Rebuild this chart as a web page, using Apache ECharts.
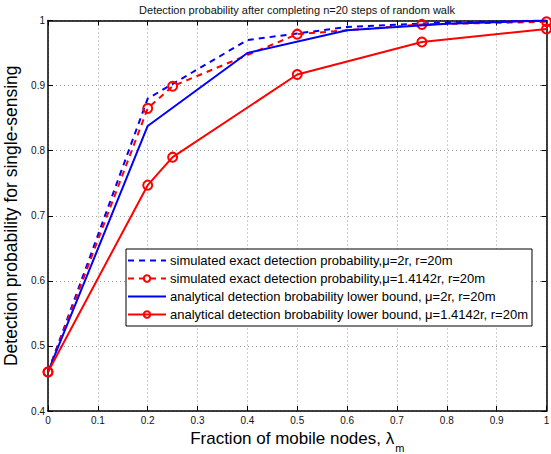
<!DOCTYPE html>
<html>
<head>
<meta charset="utf-8">
<script src="https://cdn.jsdelivr.net/npm/echarts@6/dist/echarts.min.js"></script>
<style>
  html, body { margin: 0; padding: 0; background: #fff; }
  #chart { width: 551px; height: 454px; }
</style>
</head>
<body>
<div id="chart"></div>
<script>
// Fraction of mobile nodes at which each curve was evaluated
const blueX = [0, 0.2, 0.4, 0.6, 0.8, 1];
const redX = [0, 0.2, 0.25, 0.5, 0.75, 1];

// Detection probabilities
const simMu2 = [0.46, 0.88, 0.97, 0.99, 0.997, 1.0];
const simMu14 = [0.46, 0.865, 0.899, 0.979, 0.994, 0.998];
const lbMu2 = [0.46, 0.838, 0.95, 0.985, 0.995, 1.0];
const lbMu14 = [0.46, 0.747, 0.79, 0.917, 0.967, 0.987];

const seriesNames = [
  'simulated exact detection probability,\u03bc=2r, r=20m',
  'simulated exact detection probability,\u03bc=1.4142r, r=20m',
  'analytical detection brobability lower bound, \u03bc=2r, r=20m',
  'analytical detection brobability lower bound, \u03bc=1.4142r, r=20m'
];

const titleText = 'Detection probability after completing n=20 steps of random walk';
const yName = 'Detection probability for single-sensing';

const pair = (xs, ys) => xs.map((x, i) => [x, ys[i]]);
const fmt = v => (Math.abs(v - Math.round(v)) < 1e-9 ? String(Math.round(v)) : v.toFixed(1));

const FONT = '"Liberation Sans", Arial, Helvetica, sans-serif';
const BLUE = '#0000ff';
const RED = '#ff0000';

const gridLine = { show: true, lineStyle: { color: '#9a9a9a', type: [1, 3], width: 1 } };
const axisLine = { show: true, onZero: false, lineStyle: { color: '#000', width: 1.5 } };
const tick = { show: true, inside: true, length: 5, lineStyle: { color: '#000', width: 1 } };

// legend entries for the marker-less curves show only their line
const noMarker = { color: 'rgba(0,0,0,0)', borderWidth: 0, opacity: 0 };

const chart = echarts.init(document.getElementById('chart'), null, { renderer: 'svg' });

const option = {
  backgroundColor: '#fff',
  animation: false,
  textStyle: { fontFamily: FONT },
  grid: {
    left: 48, right: 4.5, top: 20.5, bottom: 43,
    containLabel: false, outerBoundsMode: 'none'
  },
  graphic: [{
    type: 'text',
    x: 297, y: 10,
    style: {
      text: titleText,
      font: '11px ' + FONT,
      fill: '#111',
      textAlign: 'center',
      textVerticalAlign: 'middle'
    }
  }],
  legend: {
    orient: 'vertical',
    left: 126, top: 249,
    padding: [5, 4, 5, 1],
    itemWidth: 38, itemHeight: 8, itemGap: 5,
    backgroundColor: '#fff',
    borderColor: '#000', borderWidth: 1, borderRadius: 0,
    textStyle: { fontFamily: FONT, fontSize: 13, color: '#000', padding: [0, 0, 0, -1] },
    data: [
      { name: seriesNames[0], itemStyle: noMarker },
      { name: seriesNames[1] },
      { name: seriesNames[2], itemStyle: noMarker },
      { name: seriesNames[3] }
    ]
  },
  xAxis: [{
    type: 'value', min: 0, max: 1, interval: 0.1,
    name: 'Fraction of mobile nodes, {l|\u03bb}{s|m}',
    nameLocation: 'middle', nameGap: 9,
    nameTextStyle: {
      fontFamily: FONT, fontSize: 17, color: '#000',
      rich: {
        l: { fontFamily: FONT, fontSize: 17, color: '#000' },
        s: { fontFamily: FONT, fontSize: 11, color: '#000', padding: [20, 0, 0, 1] }
      }
    },
    axisLine: axisLine, axisTick: tick, splitLine: gridLine,
    axisLabel: { margin: 4, fontSize: 10, color: '#111', fontFamily: FONT, formatter: fmt }
  }, {
    type: 'value', position: 'top', min: 0, max: 1, interval: 0.1,
    axisLine: axisLine, axisTick: tick, splitLine: { show: false },
    axisLabel: { show: false }
  }],
  yAxis: [{
    type: 'value', min: 0.4, max: 1, interval: 0.1,
    name: yName, nameLocation: 'middle', nameGap: 22, nameRotate: 90,
    nameTextStyle: { fontFamily: FONT, fontSize: 17.5, color: '#000' },
    axisLine: axisLine, axisTick: tick, splitLine: gridLine,
    axisLabel: { margin: 3, fontSize: 10, color: '#111', fontFamily: FONT, formatter: fmt }
  }, {
    type: 'value', position: 'right', min: 0.4, max: 1, interval: 0.1,
    axisLine: axisLine, axisTick: tick, splitLine: { show: false },
    axisLabel: { show: false }
  }],
  series: [{
    name: seriesNames[0], type: 'line', data: pair(blueX, simMu2),
    symbol: 'none', z: 3,
    lineStyle: { color: BLUE, width: 2, type: [6, 5] },
    itemStyle: { color: BLUE }
  }, {
    name: seriesNames[1], type: 'line', data: pair(redX, simMu14),
    symbol: 'circle', symbolSize: 9, z: 4,
    lineStyle: { color: RED, width: 2, type: [6, 5] },
    itemStyle: { color: 'rgba(255,255,255,0)', borderColor: RED, borderWidth: 2 }
  }, {
    name: seriesNames[2], type: 'line', data: pair(blueX, lbMu2),
    symbol: 'none', z: 5,
    lineStyle: { color: BLUE, width: 2 },
    itemStyle: { color: BLUE }
  }, {
    name: seriesNames[3], type: 'line', data: pair(redX, lbMu14),
    symbol: 'circle', symbolSize: 9, z: 6,
    lineStyle: { color: RED, width: 2 },
    itemStyle: { color: 'rgba(255,255,255,0)', borderColor: RED, borderWidth: 2 }
  }]
};

chart.setOption(option);
</script>
</body>
</html>
